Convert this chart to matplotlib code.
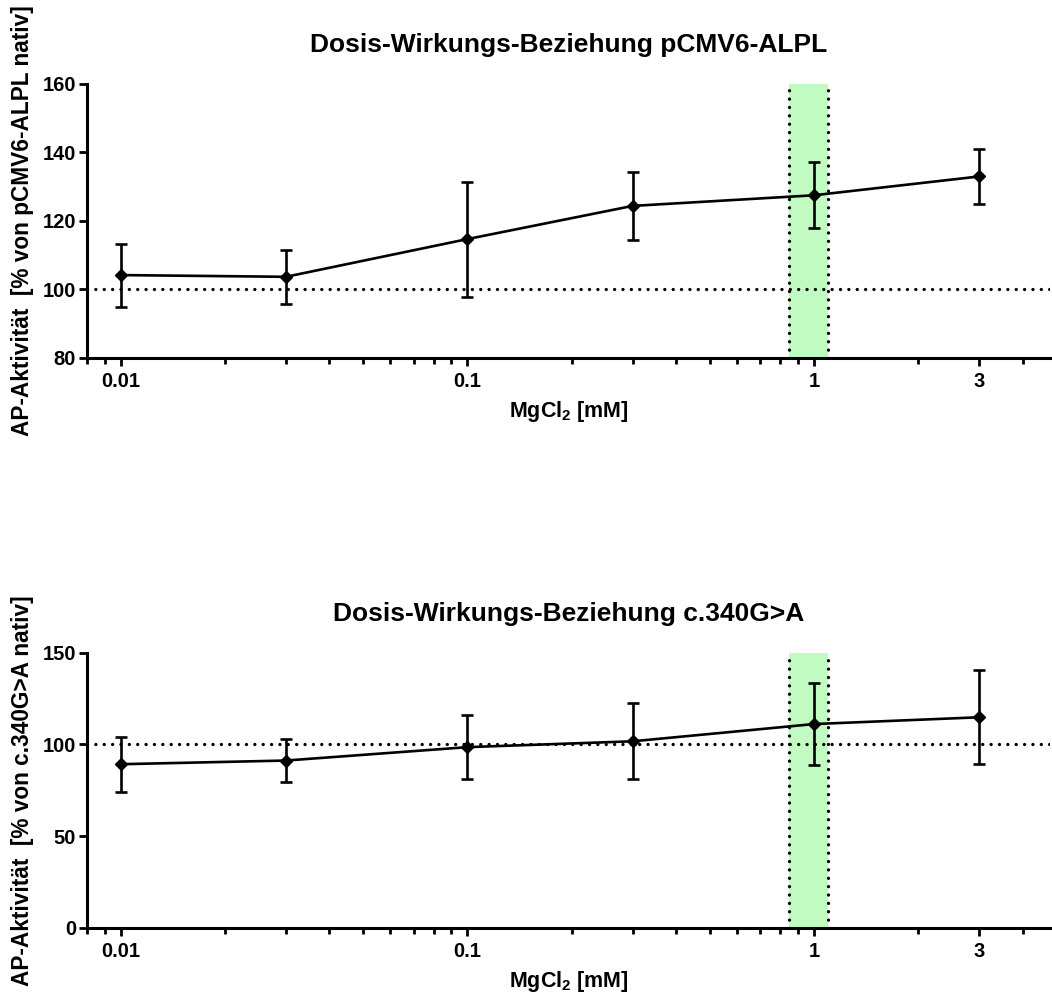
import matplotlib
matplotlib.use("Agg")
import matplotlib.pyplot as plt
from matplotlib.ticker import FixedLocator, NullFormatter, FixedFormatter

plt.rcParams["font.family"] = ["Liberation Sans", "DejaVu Sans"]
plt.rcParams["font.weight"] = "bold"
plt.rcParams["mathtext.fontset"] = "custom"
plt.rcParams["mathtext.rm"] = "Liberation Sans:bold"
plt.rcParams["mathtext.bf"] = "Liberation Sans:bold"
plt.rcParams["mathtext.it"] = "Liberation Sans:bold"

# MgCl2 concentrations [mM]
conc = [0.01, 0.03, 0.1, 0.3, 1, 3]

# AP activity, % of native pCMV6-ALPL (mean, SD)
wt_mean = [104.2, 103.7, 114.7, 124.4, 127.5, 133.0]
wt_sd = [9.2, 7.8, 16.8, 9.9, 9.6, 8.1]

# AP activity, % of native c.340G>A (mean, SD)
mut_mean = [89.2, 91.2, 98.5, 101.7, 111.1, 114.8]
mut_sd = [15.0, 11.6, 17.5, 20.7, 22.3, 25.7]

# highlighted concentration range [mM]
band = (0.85, 1.1)

major_x = [0.01, 0.1, 1, 3]
major_x_labels = ["0.01", "0.1", "1", "3"]
minor_x = [0.008, 0.009, 0.02, 0.03, 0.04, 0.05, 0.06, 0.07, 0.08, 0.09,
           0.2, 0.3, 0.4, 0.5, 0.6, 0.7, 0.8, 0.9, 2, 4]

panels = [
    dict(mean=wt_mean, sd=wt_sd, ylim=(80, 160), yticks=[80, 100, 120, 140, 160],
         title="Dosis-Wirkungs-Beziehung pCMV6-ALPL",
         ylabel="AP-Aktivität  [% von pCMV6-ALPL nativ]",
         rect=[0.0827, 0.6424, 0.9154, 0.2737]),
    dict(mean=mut_mean, sd=mut_sd, ylim=(0, 150), yticks=[0, 50, 100, 150],
         title="Dosis-Wirkungs-Beziehung c.340G>A",
         ylabel="AP-Aktivität  [% von c.340G>A nativ]",
         rect=[0.0827, 0.0732, 0.9154, 0.2747]),
]

fig = plt.figure(figsize=(10.52, 10.01), dpi=100)
dot = (0, (0.01, 2.5))

for p in panels:
    ax = fig.add_axes(p["rect"])
    ax.set_xscale("log")
    ax.set_xlim(0.008, 4.8)
    ax.set_ylim(*p["ylim"])

    ax.axvspan(band[0], band[1], color="#c2fbc2", lw=0, zorder=0)
    for xb in band:
        ax.axvline(xb, color="black", lw=2.4, ls=dot, dash_capstyle="round", zorder=1)
    ax.axhline(100, color="black", lw=2.4, ls=dot, dash_capstyle="round", zorder=1)

    ax.errorbar(conc, p["mean"], yerr=p["sd"], color="black", lw=1.9,
                elinewidth=1.9, capsize=4.5, capthick=1.9, marker="D",
                markersize=6.5, zorder=3, clip_on=False)

    for s in ("top", "right"):
        ax.spines[s].set_visible(False)
    for s in ("left", "bottom"):
        ax.spines[s].set_linewidth(2.2)

    ax.xaxis.set_major_locator(FixedLocator(major_x))
    ax.xaxis.set_major_formatter(FixedFormatter(major_x_labels))
    ax.xaxis.set_minor_locator(FixedLocator(minor_x))
    ax.xaxis.set_minor_formatter(NullFormatter())
    ax.set_yticks(p["yticks"])

    ax.tick_params(axis="both", which="major", direction="out", length=6,
                   width=2.0, labelsize=14.5, pad=4)
    ax.tick_params(axis="x", which="minor", direction="out", length=4, width=2.0)
    ax.tick_params(axis="y", which="minor", left=False)
    ax.tick_params(axis="y", pad=2)

    ax.set_title(p["title"], fontsize=19, fontweight="bold", pad=23)
    ax.set_xlabel(r"MgCl$_{2}$ [mM]", fontsize=15.5, fontweight="bold", labelpad=6)
    ax.set_ylabel(p["ylabel"], fontsize=16.3, fontweight="bold", labelpad=6)

fig.savefig("out.png", dpi=100)
